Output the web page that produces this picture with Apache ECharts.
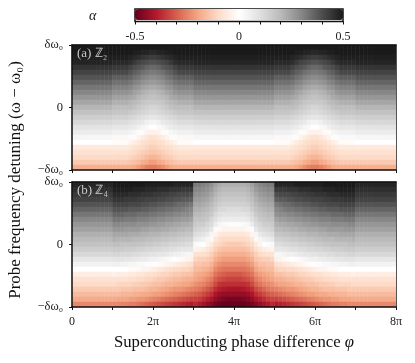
<!DOCTYPE html>
<html lang="en">
<head>
    <meta charset="UTF-8">
    <title>Probe absorption</title>
    <script src="https://cdn.jsdelivr.net/npm/echarts@6/dist/echarts.min.js"></script>
    <style>
        html, body { margin: 0; padding: 0; background: #fff; }
    </style>
</head>
<body>
<div id="main" style="width: 415px; height: 363px;"></div>
<script>
    // alpha x 100. each line is one column, top row first
    // (a) columns from 0 to 2pi, the rest of the panel repeats them mirrored
    var panelAColumns = [
        [50,50,49,48,45,42,39,36,33,30,27,24,21,18,15,12,9,6,3,0,-6,-8,-10,-13,-18],
        [50,50,49,48,45,42,39,36,33,30,27,24,21,18,15,12,9,6,3,0,-6,-8,-10,-13,-18],
        [50,50,49,48,45,42,39,36,33,30,27,24,21,18,15,12,9,6,3,0,-6,-8,-10,-13,-18],
        [50,50,49,48,45,42,39,36,33,30,27,24,21,18,15,12,9,6,3,0,-6,-8,-10,-13,-18],
        [50,50,49,48,45,42,39,36,33,30,27,24,21,18,15,12,9,6,3,0,-6,-8,-10,-13,-18],
        [50,50,49,48,45,42,39,36,33,30,27,24,21,18,15,12,9,6,3,0,-6,-8,-10,-13,-18],
        [50,50,49,48,45,42,39,36,33,30,27,24,21,18,15,12,9,6,3,0,-6,-8,-10,-13,-18],
        [50,50,49,48,45,42,39,36,33,30,27,24,21,18,15,12,9,6,3,0,-6,-8,-10,-13,-18],
        [50,50,49,48,45,42,39,36,33,30,27,24,21,18,15,12,9,6,3,0,-6,-8,-10,-13,-18],
        [50,50,49,48,45,42,39,36,33,30,27,24,21,18,15,12,9,6,3,0,-6,-8,-10,-13,-18],
        [50,50,49,47,44,41,37,34,31,28,25,22,19,17,14,11,8,5,2,-1,-6,-8,-10,-13,-18],
        [50,50,49,47,44,41,37,34,31,28,25,22,19,17,14,11,8,5,2,-1,-6,-8,-10,-13,-18],
        [50,50,49,47,44,41,37,34,31,28,25,22,19,17,14,11,8,5,2,-1,-6,-8,-10,-13,-18],
        [50,50,49,47,44,41,37,34,31,28,25,22,19,17,14,11,8,5,2,-1,-6,-8,-10,-13,-18],
        [50,50,48,46,42,39,36,33,30,27,24,21,19,16,13,10,7,4,1,-3,-7,-9,-11,-14,-18],
        [50,49,47,44,40,37,34,31,28,25,23,20,18,15,12,9,6,3,-1,-5,-8,-10,-12,-15,-19],
        [50,49,46,42,39,36,33,30,27,24,21,19,16,14,11,8,5,1,-3,-6,-9,-11,-13,-16,-21],
        [50,48,45,41,38,34,31,28,25,22,20,17,15,13,10,7,3,-1,-5,-8,-10,-12,-14,-18,-23],
        [50,48,44,40,36,33,30,27,24,21,19,16,14,12,9,5,2,-3,-7,-9,-11,-13,-16,-19,-25],
        [50,47,43,39,35,32,29,26,23,20,18,16,13,11,8,4,0,-4,-8,-10,-12,-14,-17,-21,-26]
    ];
    // (b) columns from 0 to 4pi, mirrored for 4pi to 8pi
    var panelBColumns = [
        [48,46,44,42,39,36,33,30,27,25,22,20,18,15,12,8,4,0,-5,-8,-10,-13,-16,-19,-24],
        [48,46,44,42,39,36,33,30,27,25,22,20,18,15,12,8,4,0,-5,-8,-10,-13,-16,-19,-24],
        [48,46,44,42,39,36,33,30,27,25,22,20,18,15,12,8,4,0,-5,-8,-10,-13,-16,-19,-24],
        [48,46,44,42,39,36,33,30,27,25,22,20,18,15,12,8,4,0,-5,-8,-10,-13,-16,-19,-24],
        [48,46,44,42,39,36,33,30,27,25,22,20,18,15,12,8,4,0,-5,-8,-10,-13,-16,-19,-24],
        [48,46,44,42,39,36,33,30,27,25,22,20,18,15,12,8,4,0,-5,-8,-10,-13,-16,-19,-24],
        [48,46,44,42,39,36,33,30,27,25,22,20,18,15,12,8,4,0,-5,-8,-10,-13,-16,-19,-24],
        [48,46,44,42,39,36,33,30,27,25,22,20,18,15,12,8,4,0,-5,-8,-10,-13,-16,-19,-24],
        [48,46,44,42,39,36,33,30,27,25,22,20,18,15,12,8,4,0,-5,-8,-10,-13,-16,-19,-24],
        [48,46,44,42,39,36,33,30,27,25,22,20,18,15,12,8,4,0,-5,-8,-10,-13,-16,-19,-24],
        [50,49,47,45,42,39,36,33,30,27,24,22,19,16,13,9,5,0,-4,-8,-10,-13,-16,-19,-24],
        [50,49,47,45,42,39,36,33,30,27,24,21,19,16,13,9,5,0,-5,-8,-11,-13,-16,-20,-24],
        [50,49,47,45,42,39,36,33,29,27,24,21,18,16,12,9,4,0,-5,-8,-11,-14,-17,-20,-25],
        [50,49,47,44,42,39,35,32,29,26,24,21,18,15,12,8,4,0,-5,-8,-11,-14,-17,-20,-25],
        [50,49,46,44,41,38,35,32,29,26,23,21,18,15,12,8,3,-1,-6,-9,-11,-14,-17,-21,-26],
        [50,48,46,44,41,38,35,32,29,26,23,20,18,15,11,7,3,-1,-6,-9,-12,-15,-18,-21,-26],
        [50,48,46,43,41,38,34,31,28,26,23,20,17,14,11,7,2,-2,-7,-10,-12,-15,-18,-22,-27],
        [50,48,45,43,40,37,34,31,28,25,22,20,17,14,10,6,2,-3,-7,-10,-13,-15,-19,-22,-28],
        [49,47,45,42,40,37,34,31,28,25,22,19,16,13,10,6,1,-3,-8,-11,-13,-16,-19,-23,-29],
        [49,47,45,42,39,36,33,30,27,24,21,19,16,13,9,5,1,-4,-8,-11,-14,-17,-20,-24,-30],
        [49,47,44,42,39,36,33,30,27,24,21,18,15,12,9,5,0,-5,-9,-12,-15,-17,-21,-25,-31],
        [49,46,44,41,38,35,32,29,26,24,21,18,15,12,8,4,-1,-6,-10,-13,-15,-18,-21,-26,-32],
        [49,46,43,41,38,35,32,29,26,23,20,17,14,11,8,3,-2,-7,-11,-13,-16,-19,-22,-27,-33],
        [49,46,43,40,37,34,31,28,25,23,20,17,14,11,7,2,-3,-8,-11,-14,-17,-20,-23,-28,-34],
        [49,45,42,40,37,34,31,28,25,22,19,16,13,10,6,1,-4,-9,-12,-15,-17,-21,-24,-29,-35],
        [48,45,42,39,36,33,30,27,24,22,19,16,13,10,5,0,-5,-10,-13,-16,-18,-22,-25,-30,-36],
        [48,45,41,39,35,33,30,27,24,21,18,15,12,9,5,-1,-6,-10,-13,-16,-19,-22,-26,-31,-37],
        [48,44,41,38,35,32,29,26,23,21,18,15,12,8,4,-2,-7,-11,-14,-17,-20,-23,-27,-32,-38],
        [48,44,41,38,34,31,29,26,23,20,17,14,11,8,3,-3,-8,-11,-15,-18,-20,-24,-28,-33,-39],
        [48,44,40,37,33,30,28,25,22,20,17,14,11,8,3,-4,-9,-12,-15,-18,-21,-25,-29,-34,-40],
        [32,30,28,26,24,22,20,18,16,14,11,7,2,-3,-8,-11,-14,-16,-18,-20,-23,-26,-30,-34,-38],
        [32,30,28,26,24,22,20,18,15,13,10,6,1,-4,-8,-12,-14,-16,-19,-21,-24,-27,-31,-35,-40],
        [31,29,27,25,23,21,19,17,15,12,9,5,0,-5,-9,-12,-15,-17,-20,-22,-25,-29,-33,-37,-42],
        [30,28,26,24,22,20,18,16,13,11,7,3,-3,-7,-10,-13,-15,-18,-21,-24,-27,-31,-35,-39,-44],
        [28,26,24,22,20,18,16,13,11,8,3,-2,-6,-9,-12,-14,-17,-20,-23,-26,-29,-33,-37,-41,-46],
        [25,23,21,19,17,15,12,10,6,1,-3,-7,-10,-12,-15,-18,-21,-24,-27,-30,-33,-37,-41,-44,-48],
        [23,21,19,17,15,12,10,7,3,-2,-6,-9,-11,-14,-17,-20,-23,-26,-29,-32,-36,-39,-43,-46,-49],
        [22,20,18,16,14,12,9,6,2,-3,-7,-10,-12,-15,-18,-21,-24,-27,-30,-33,-37,-40,-44,-47,-50],
        [22,20,18,16,14,11,9,6,1,-3,-7,-10,-13,-15,-18,-21,-24,-27,-31,-34,-37,-41,-44,-48,-50],
        [22,20,18,16,14,11,9,6,1,-3,-7,-10,-13,-15,-18,-21,-24,-27,-31,-34,-37,-41,-44,-48,-50]
    ];
    var colorStops = ['#67001f', '#b2182b', '#d6604d', '#f4a582', '#fddbc7', '#ffffff',
        '#e0e0e0', '#bababa', '#878787', '#4d4d4d', '#1a1a1a'];
    var xTickLabels = ['0', '', '2π', '', '4π', '', '6π', '', '8π'];
    var yTickLabels = {'-1': '−δω₀', '0': '0', '1': 'δω₀'};
    var barTickLabels = {'-0.5': '-0.5', '0': '0', '0.5': '0.5'};

    var serif = '"Liberation Serif", serif';

    function mirror(cols) {
        return cols.concat(cols.slice().reverse());
    }
    var panelAFull = mirror(mirror(panelAColumns));
    var panelBFull = mirror(panelBColumns);

    function toCells(cols) {
        var cells = [];
        cols.forEach(function (col, i) {
            col.forEach(function (v, j) {
                cells.push([i, j, v / 100]);
            });
        });
        return cells;
    }

    var columnNames = panelAFull.map(function (c, i) { return i; });
    var rowNames = panelAColumns[0].map(function (c, i) { return i; });

    var grids = [
        {left: 72, top: 45, width: 324, height: 125},
        {left: 72, top: 182, width: 324, height: 125},
        {left: 135, top: 9, width: 208, height: 12.5, show: true, borderColor: '#111', borderWidth: 1.5, backgroundColor: '#fff'}
    ];

    var frame = {show: true, onZero: false, lineStyle: {color: '#111', width: 1.5}};
    var xAxes = [], yAxes = [], series = [];
    [panelAFull, panelBFull].forEach(function (cols, p) {
        // hidden band axes carry the cells, their lines close the frame at top and right
        xAxes.push({type: 'category', gridIndex: p, position: 'top', data: columnNames, z: 5,
            axisLine: frame, axisTick: {show: false}, axisLabel: {show: false}, splitLine: {show: false}});
        yAxes.push({type: 'category', gridIndex: p, position: 'right', inverse: true, data: rowNames, z: 5,
            axisLine: {show: true, onZero: false, lineStyle: {color: '#555', width: 1}}, axisTick: {show: false}, axisLabel: {show: false}, splitLine: {show: false}});
        series.push({type: 'heatmap', xAxisIndex: p, yAxisIndex: p, data: toCells(cols), progressive: 0,
            itemStyle: {borderWidth: 0}, emphasis: {disabled: true}});
    });
    [0, 1].forEach(function (p) {
        var bottom = p === 1;
        xAxes.push({type: 'value', gridIndex: p, position: 'bottom', min: 0, max: 8, interval: 1, z: 5,
            axisLine: frame, axisTick: {show: true, length: 3, lineStyle: {color: '#111', width: 1}},
            splitLine: {show: false},
            axisLabel: {show: bottom, fontFamily: serif, fontSize: 12, color: '#222', margin: 9, showMinLabel: true, showMaxLabel: true,
                formatter: function (v) { return xTickLabels[v]; }},
            name: bottom ? 'Superconducting phase difference {i|φ}' : '', nameLocation: 'middle', nameGap: 27,
            nameTextStyle: {fontFamily: serif, fontSize: 16.7, color: '#111',
                rich: {i: {fontFamily: serif, fontStyle: 'italic', fontSize: 16.7, color: '#111'}}}});
        yAxes.push({type: 'value', gridIndex: p, position: 'left', min: -1, max: 1, interval: 1, z: 5,
            axisLine: frame, axisTick: {show: true, length: 3, lineStyle: {color: '#111', width: 1}},
            splitLine: {show: false},
            axisLabel: {fontFamily: serif, fontSize: 12.5, color: '#222', margin: 9, showMinLabel: true, showMaxLabel: true,
                formatter: function (v) { return yTickLabels[v]; }}});
    });
    // colour bar axis, the bar itself is the visualMap
    xAxes.push({type: 'value', gridIndex: 2, position: 'bottom', min: -0.5, max: 0.5, interval: 0.1,
        axisLine: {show: false}, axisTick: {show: true, length: 3, lineStyle: {color: '#111', width: 1}},
        splitLine: {show: false},
        axisLabel: {fontFamily: serif, fontSize: 12, color: '#222', margin: 9, showMinLabel: true, showMaxLabel: true,
            formatter: function (v) { return barTickLabels[String(Math.round(v * 10) / 10)] || ''; }}});
    yAxes.push({type: 'value', gridIndex: 2, min: 0, max: 1, show: false});

    var chart = echarts.init(document.getElementById('main'), null, {renderer: 'canvas'});
    chart.setOption({
        animation: false,
        backgroundColor: '#fff',
        grid: grids,
        xAxis: xAxes,
        yAxis: yAxes,
        tooltip: {show: false},
        visualMap: {
            type: 'continuous', seriesIndex: [0, 1], min: -0.5, max: 0.5, orient: 'horizontal',
            left: 135, top: 9, itemWidth: 11, itemHeight: 208, padding: 0, calculable: false, hoverLink: false,
            showLabel: false, inRange: {color: colorStops}
        },
        series: series,
        graphic: [
            {type: 'text', left: 77, top: 47, z: 20, style: {text: '(a) ℤ₂', fill: '#c8c8c8', font: '13px ' + serif}},
            {type: 'text', left: 77, top: 184, z: 20, style: {text: '(b) ℤ₄', fill: '#c8c8c8', font: '13px ' + serif}},
            {type: 'text', left: 89, top: 9, z: 20, style: {text: 'α', fill: '#111', font: 'italic 14px ' + serif}},
            {type: 'text', x: 16, y: 180, rotation: Math.PI / 2, z: 20,
                style: {text: 'Probe frequency detuning (ω − ω₀)', fill: '#111', font: '17px ' + serif, align: 'center', verticalAlign: 'middle'}}
        ]
    });
</script>
</body>
</html>
